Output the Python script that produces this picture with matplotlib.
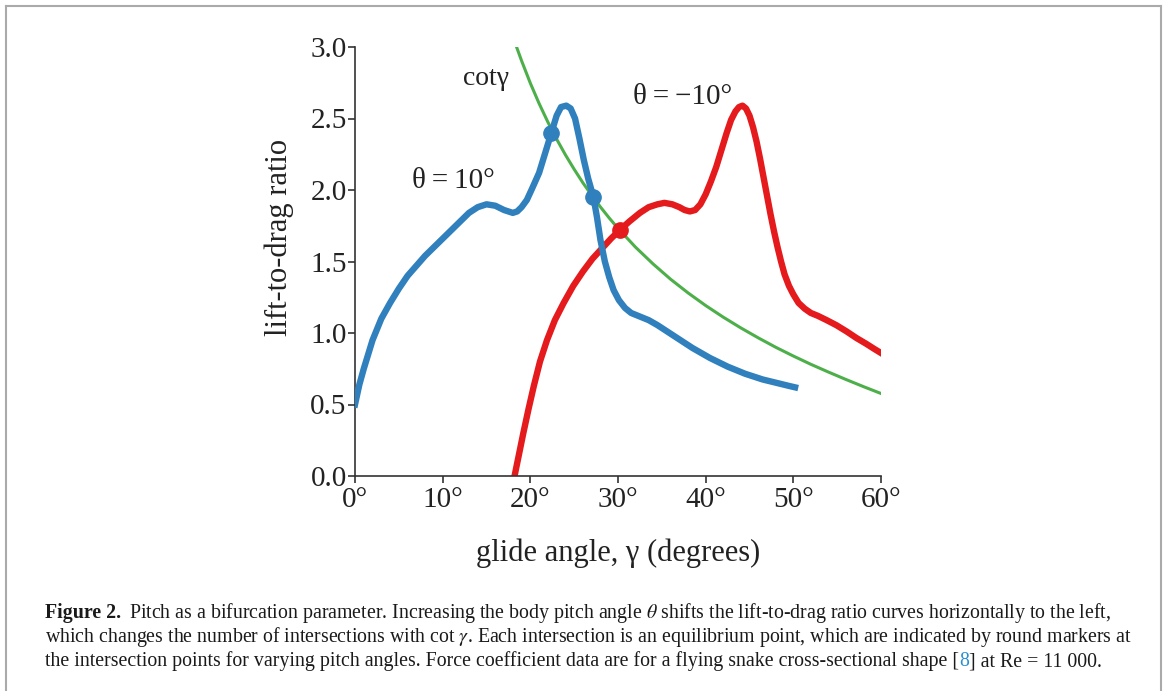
import numpy as np
import matplotlib.pyplot as plt
from matplotlib.lines import Line2D

# Кривая cot(gamma), значения
cot_g = [18.43, 19, 20, 21, 22, 23, 24, 25, 26, 27, 28, 29, 30, 32, 34, 36, 38,
         40, 42, 44, 46, 48, 50, 52, 54, 56, 58, 60]
cot_v = [3.0, 2.904, 2.747, 2.605, 2.475, 2.356, 2.246, 2.145, 2.050, 1.963, 1.881,
         1.804, 1.732, 1.600, 1.483, 1.376, 1.280, 1.192, 1.111, 1.036, 0.966,
         0.900, 0.839, 0.781, 0.727, 0.675, 0.625, 0.577]

# theta = 10 deg (синяя)
blue_g = [0.0, 0.5, 1.0, 2.0, 3.0, 4.0, 5.0, 6.0, 7.0, 8.0, 9.0, 10.0, 11.0, 12.0,
          13.0, 14.0, 15.0, 16.0, 17.0, 18.0, 18.5, 19.0, 19.6, 20.2, 21.0, 21.8,
          22.4, 23.0, 23.5, 24.1, 24.6, 25.1, 25.6, 26.1, 26.6, 27.2, 27.6, 28.0,
          28.5, 29.0, 29.5, 30.1, 30.8, 31.5, 32.5, 33.5, 34.5, 35.5, 36.5, 37.5,
          38.5, 39.5, 40.5, 41.5, 42.5, 43.5, 44.5, 45.5, 46.5, 47.5, 48.5, 49.5, 50.2]
blue_v = [0.50, 0.64, 0.75, 0.95, 1.10, 1.21, 1.31, 1.40, 1.47, 1.54, 1.60, 1.66,
          1.72, 1.78, 1.84, 1.88, 1.90, 1.89, 1.86, 1.84, 1.85, 1.88, 1.93, 2.01,
          2.12, 2.28, 2.40, 2.52, 2.58, 2.59, 2.57, 2.50, 2.36, 2.21, 2.08, 1.95,
          1.81, 1.65, 1.50, 1.39, 1.30, 1.23, 1.175, 1.14, 1.115, 1.09, 1.055, 1.015,
          0.975, 0.935, 0.895, 0.86, 0.825, 0.795, 0.765, 0.74, 0.715, 0.695, 0.675,
          0.66, 0.645, 0.63, 0.62]

# theta = -10 deg (красная)
red_g = [18.2, 18.7, 19.2, 19.8, 20.4, 21.1, 21.9, 22.8, 23.8, 24.9, 26.0, 27.1,
         28.3, 29.2, 30.2, 31.3, 32.5, 33.5, 34.5, 35.3, 36.2, 37.0, 37.6, 38.2,
         38.8, 39.4, 40.0, 40.6, 41.2, 41.8, 42.4, 42.9, 43.4, 43.8, 44.2, 44.6,
         45.0, 45.4, 45.8, 46.2, 46.6, 47.0, 47.4, 47.8, 48.2, 48.6, 49.0, 49.5,
         50.0, 50.6, 51.3, 52.0, 52.8, 53.8, 54.9, 56.1, 57.2, 58.3, 59.2, 60.0]
red_v = [0.00, 0.15, 0.30, 0.47, 0.63, 0.80, 0.95, 1.09, 1.21, 1.33, 1.43, 1.52,
         1.60, 1.66, 1.72, 1.78, 1.84, 1.88, 1.90, 1.91, 1.90, 1.88, 1.86, 1.85,
         1.86, 1.90, 1.97, 2.06, 2.16, 2.28, 2.40, 2.49, 2.55, 2.58, 2.59, 2.57,
         2.52, 2.44, 2.34, 2.22, 2.09, 1.96, 1.83, 1.71, 1.60, 1.50, 1.41, 1.33,
         1.27, 1.21, 1.17, 1.14, 1.12, 1.09, 1.055, 1.01, 0.965, 0.925, 0.89, 0.86]

# Точки равновесия
eq_blue_g = [22.4, 27.2]
eq_blue_v = [2.40, 1.95]
eq_red_g = [30.2]
eq_red_v = [1.72]

xticks = [0, 10, 20, 30, 40, 50, 60]
xtick_labels = ['0°', '10°', '20°', '30°', '40°', '50°', '60°']
yticks = [0.0, 0.5, 1.0, 1.5, 2.0, 2.5, 3.0]
ytick_labels = ['0.0', '0.5', '1.0', '1.5', '2.0', '2.5', '3.0']

BLUE = '#3080bd'
RED = '#e41a1c'
GREEN = '#4daf4a'
INK = '#222222'

plt.rcParams['font.family'] = ['Liberation Serif', 'DejaVu Serif']
plt.rcParams['mathtext.fontset'] = 'stix'

W, H = 1165, 691
fig = plt.figure(figsize=(W / 100, H / 100), dpi=100)
ax = fig.add_axes([355 / W, 215 / H, 526 / W, 429 / H])

ax.plot(red_g, red_v, color=RED, lw=4.6, zorder=2)
ax.plot(cot_g, cot_v, color=GREEN, lw=2.2, zorder=3)
ax.plot(blue_g, blue_v, color=BLUE, lw=4.6, zorder=4)
ax.plot(eq_blue_g, eq_blue_v, 'o', color=BLUE, ms=11, zorder=5)
ax.plot(eq_red_g, eq_red_v, 'o', color=RED, ms=11, zorder=5)

ax.text(14.9, 2.78, 'cotγ', fontsize=20, color=INK, ha='center', va='center')
ax.text(11.2, 2.06, 'θ\u2009=\u200910°', fontsize=21, color=INK, ha='center', va='center')
ax.text(37.4, 2.65, 'θ\u2009=\u2009−10°', fontsize=21, color=INK, ha='center', va='center')

# Оформление осей
ax.set_xlim(0, 60)
ax.set_ylim(0, 3)
ax.set_xticks(xticks)
ax.set_xticklabels(xtick_labels)
ax.set_yticks(yticks)
ax.set_yticklabels(ytick_labels)
for s in ['top', 'right']:
    ax.spines[s].set_visible(False)
for s in ['left', 'bottom']:
    ax.spines[s].set_linewidth(1.2)
    ax.spines[s].set_color('#333333')
ax.tick_params(direction='out', length=5, width=1.2, pad=1, labelsize=21,
               colors='#333333', labelcolor=INK)
ax.tick_params(axis='x', pad=3)

ax.set_xlabel('glide angle, γ (degrees)', fontsize=22, color=INK)
ax.xaxis.set_label_coords(0.5, -0.145)
ax.set_ylabel('lift-to-drag ratio', fontsize=22, color=INK)
ax.yaxis.set_label_coords(-0.116, 0.557)

# Рамка вокруг рисунка
for xs, ys in [([6, 6], [0, 685]), ([6, 1161], [685, 685]), ([1161, 1161], [685, 0])]:
    fig.add_artist(Line2D([x / W for x in xs], [y / H for y in ys],
                          transform=fig.transFigure, color='#aaaaaa', lw=1.5))

# Подпись к рисунку
renderer = fig.canvas.get_renderer()
cap_size = 14.3


def put(x, y, s, color='#1a1a1a', **kw):
    t = fig.text(x, y, s, fontsize=cap_size, color=color, va='baseline', **kw)
    bb = t.get_window_extent(renderer)
    return bb.x1 / W


x0 = 45 / W
x = put(x0, (H - 618) / H, 'Figure 2.', fontweight='bold')
put(x + 8 / W, (H - 618) / H,
    'Pitch as a bifurcation parameter. Increasing the body pitch angle $\\theta$ shifts '
    'the lift-to-drag ratio curves horizontally to the left,')
put(x0, (H - 642) / H,
    'which changes the number of intersections with cot $\\gamma$. Each intersection is an '
    'equilibrium point, which are indicated by round markers at')
x = put(x0, (H - 666) / H,
        'the intersection points for varying pitch angles. Force coefficient data are for '
        'a flying snake cross-sectional shape [')
x = put(x, (H - 666) / H, '8', color='#2a8fd0')
put(x, (H - 666) / H, '] at Re = 11 000.')

plt.savefig('out.png', dpi=100)
